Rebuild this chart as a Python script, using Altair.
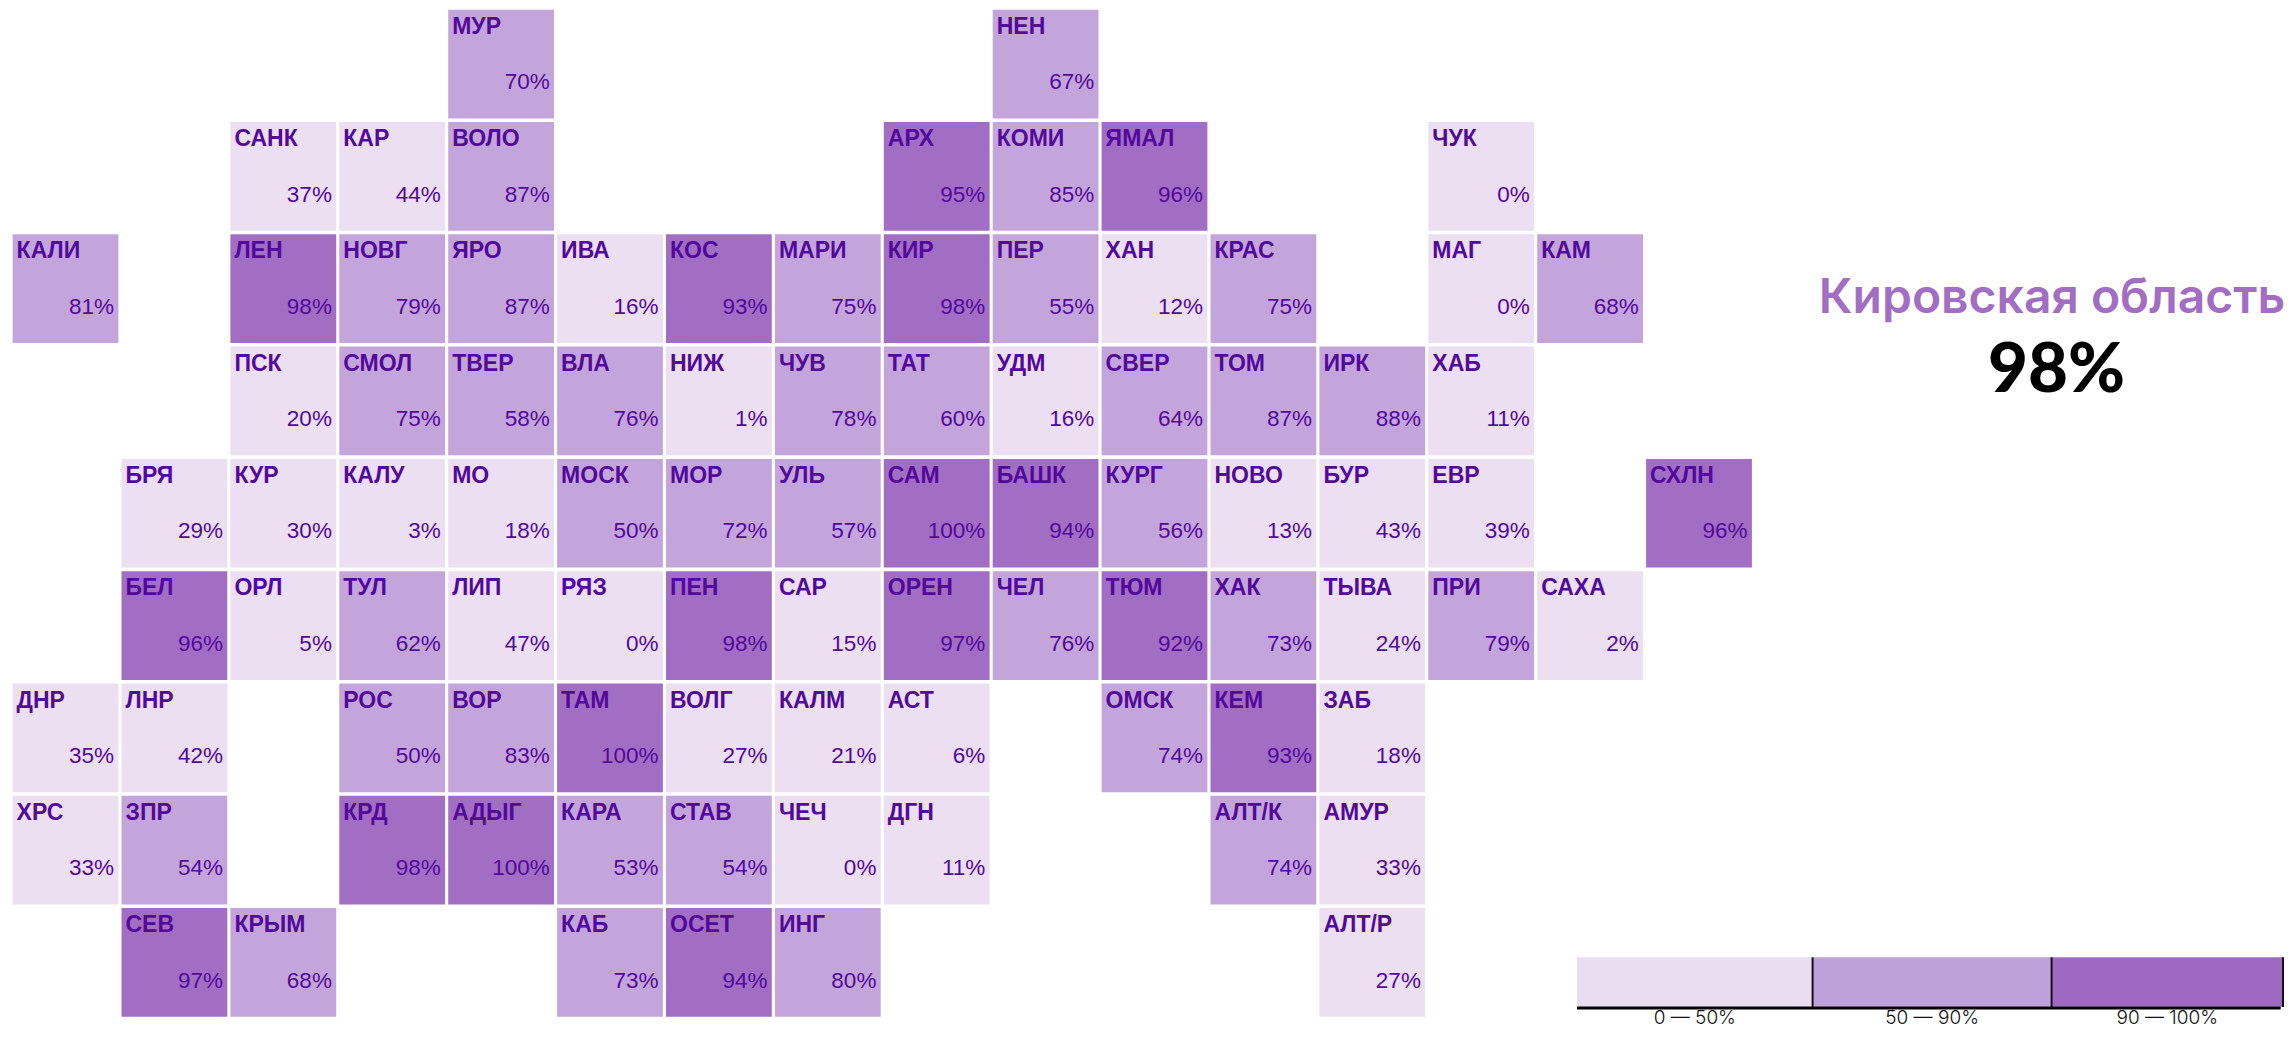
import altair as alt
import pandas as pd

# region short names per row of the tile grid: (name, column, value)
ROW_0 = [("МУР", 4, 70), ("НЕН", 9, 67)]
ROW_1 = [("САНК", 2, 37), ("КАР", 3, 44), ("ВОЛО", 4, 87), ("АРХ", 8, 95), ("КОМИ", 9, 85), ("ЯМАЛ", 10, 96), ("ЧУК", 13, 0)]
ROW_2 = [("КАЛИ", 0, 81), ("ЛЕН", 2, 98), ("НОВГ", 3, 79), ("ЯРО", 4, 87), ("ИВА", 5, 16), ("КОС", 6, 93), ("МАРИ", 7, 75),
         ("КИР", 8, 98), ("ПЕР", 9, 55), ("ХАН", 10, 12), ("КРАС", 11, 75), ("МАГ", 13, 0), ("КАМ", 14, 68)]
ROW_3 = [("ПСК", 2, 20), ("СМОЛ", 3, 75), ("ТВЕР", 4, 58), ("ВЛА", 5, 76), ("НИЖ", 6, 1), ("ЧУВ", 7, 78), ("ТАТ", 8, 60),
         ("УДМ", 9, 16), ("СВЕР", 10, 64), ("ТОМ", 11, 87), ("ИРК", 12, 88), ("ХАБ", 13, 11)]
ROW_4 = [("БРЯ", 1, 29), ("КУР", 2, 30), ("КАЛУ", 3, 3), ("МО", 4, 18), ("МОСК", 5, 50), ("МОР", 6, 72), ("УЛЬ", 7, 57),
         ("САМ", 8, 100), ("БАШК", 9, 94), ("КУРГ", 10, 56), ("НОВО", 11, 13), ("БУР", 12, 43), ("ЕВР", 13, 39), ("СХЛН", 15, 96)]
ROW_5 = [("БЕЛ", 1, 96), ("ОРЛ", 2, 5), ("ТУЛ", 3, 62), ("ЛИП", 4, 47), ("РЯЗ", 5, 0), ("ПЕН", 6, 98), ("САР", 7, 15),
         ("ОРЕН", 8, 97), ("ЧЕЛ", 9, 76), ("ТЮМ", 10, 92), ("ХАК", 11, 73), ("ТЫВА", 12, 24), ("ПРИ", 13, 79), ("САХА", 14, 2)]
ROW_6 = [("ДНР", 0, 35), ("ЛНР", 1, 42), ("РОС", 3, 50), ("ВОР", 4, 83), ("ТАМ", 5, 100), ("ВОЛГ", 6, 27), ("КАЛМ", 7, 21),
         ("АСТ", 8, 6), ("ОМСК", 10, 74), ("КЕМ", 11, 93), ("ЗАБ", 12, 18)]
ROW_7 = [("ХРС", 0, 33), ("ЗПР", 1, 54), ("КРД", 3, 98), ("АДЫГ", 4, 100), ("КАРА", 5, 53), ("СТАВ", 6, 54), ("ЧЕЧ", 7, 0),
         ("ДГН", 8, 11), ("АЛТ/К", 11, 74), ("АМУР", 12, 33)]
ROW_8 = [("СЕВ", 1, 97), ("КРЫМ", 2, 68), ("КАБ", 5, 73), ("ОСЕТ", 6, 94), ("ИНГ", 7, 80), ("АЛТ/Р", 12, 27)]
ROWS = [ROW_0, ROW_1, ROW_2, ROW_3, ROW_4, ROW_5, ROW_6, ROW_7, ROW_8]

BANDS = ["0 — 50%", "50 — 90%", "90 — 100%"]
REGION_TITLE = "Кировская область"
REGION_VALUE = "98%"

LIGHT, MID, DARK = "#EBDFF1", "#C4A5DB", "#A16EC4"
INK = "#52089B"

W, H = 2276, 1022
PITCH_X, PITCH_Y = 108.9, 112.3
CELL_W, CELL_H = 105.8, 108.7
X0, Y0 = 4.6, 1.7


def band(v):
    return BANDS[0] if v < 50 else BANDS[1] if v < 90 else BANDS[2]


records = []
for r, row in enumerate(ROWS):
    for name, col, val in row:
        records.append({
            "name": name, "col": col, "row": r, "value": val,
            "col2": col + CELL_W / PITCH_X, "row2": r + CELL_H / PITCH_Y,
            "pct": f"{val}%", "band": band(val),
        })
cells = pd.DataFrame(records)

x_scale = alt.Scale(domain=[-X0 / PITCH_X, (W - X0) / PITCH_X], range=[0, W], nice=False, zero=False)
y_scale = alt.Scale(domain=[-Y0 / PITCH_Y, (H - Y0) / PITCH_Y], range=[0, H], nice=False, zero=False)
X = alt.X("col:Q", scale=x_scale, axis=None)
Y = alt.Y("row:Q", scale=y_scale, axis=None)
color = alt.Color("band:N", scale=alt.Scale(domain=BANDS, range=[LIGHT, MID, DARK]), legend=None)

tiles = alt.Chart(cells).mark_rect(strokeWidth=0).encode(x=X, x2="col2:Q", y=Y, y2="row2:Q", color=color)
names = alt.Chart(cells).mark_text(
    align="left", baseline="middle", dx=4, dy=17, font="Liberation Sans", fontWeight="bold", fontSize=23, color=INK
).encode(x=X, y=Y, text="name:N")
pcts = alt.Chart(cells).mark_text(
    align="right", baseline="middle", dx=-4.3, dy=72.5, font="Liberation Sans", fontSize=22.5, color=INK
).encode(x=alt.X("col2:Q", scale=x_scale, axis=None), y=Y, text="pct:N")
grid = alt.layer(tiles, names, pcts)

# legend strip, on its own band scale
lx = alt.Scale(domain=[0, 1, 2, 3], range=[1569, 1804.6, 2043.6, 2275], nice=False, zero=False)
legend_df = pd.DataFrame({
    "i": [0, 1, 2], "i2": [1, 2, 3], "mid": [0.5, 1.5, 2.5], "band": BANDS,
})
leg_fill = {BANDS[0]: "#EADDF1", BANDS[1]: "#BEA1D9", BANDS[2]: "#9F69C3"}
lcolor = alt.Color("band:N", scale=alt.Scale(domain=BANDS, range=[leg_fill[b] for b in BANDS]), legend=None)
LX = alt.X("i:Q", scale=lx, axis=None)
leg_rect = alt.Chart(legend_df).mark_rect(strokeWidth=0).encode(
    x=LX, x2="i2:Q", y=alt.value(949.3), y2=alt.value(998.7), color=lcolor
)
leg_ticks = alt.Chart(legend_df).mark_rule(color="#111111", strokeWidth=2).encode(
    x=alt.X("i2:Q", scale=lx, axis=None), y=alt.value(949.3), y2=alt.value(999)
)
leg_base = alt.Chart(pd.DataFrame({"a": [0], "b": [2.99]})).mark_rule(color="#000000", strokeWidth=3).encode(
    x=alt.X("a:Q", scale=lx, axis=None), x2="b:Q", y=alt.value(1000)
)
leg_text = alt.Chart(legend_df).mark_text(
    align="center", baseline="middle", font="Inter", fontWeight=300, fontSize=19, color="#111111"
).encode(x=alt.X("mid:Q", scale=lx, axis=None), y=alt.value(1010), text="band:N")

head = alt.Chart(pd.DataFrame({"t": [REGION_TITLE]})).mark_text(
    align="center", baseline="alphabetic", font="Inter", fontWeight=600, fontSize=48, color=DARK
).encode(x=alt.value(2044), y=alt.value(305), text="t:N")
big = alt.Chart(pd.DataFrame({"t": [REGION_VALUE]})).mark_text(
    align="center", baseline="alphabetic", font="Lato", fontWeight=900, fontSize=69, color="#000000"
).encode(x=alt.value(2048.5), y=alt.value(384), text="t:N")
titles = alt.layer(head, big)
side = alt.layer(leg_rect, leg_ticks, leg_base, leg_text)

chart = (
    alt.layer(grid, side, titles)
    .resolve_scale(x="independent", y="independent", color="independent")
    .properties(width=W, height=H, padding=0, autosize=alt.AutoSizeParams(type="none"))
    .configure_view(stroke=None)
)
chart.save("out.html", embed_options={"renderer": "svg", "actions": False})
